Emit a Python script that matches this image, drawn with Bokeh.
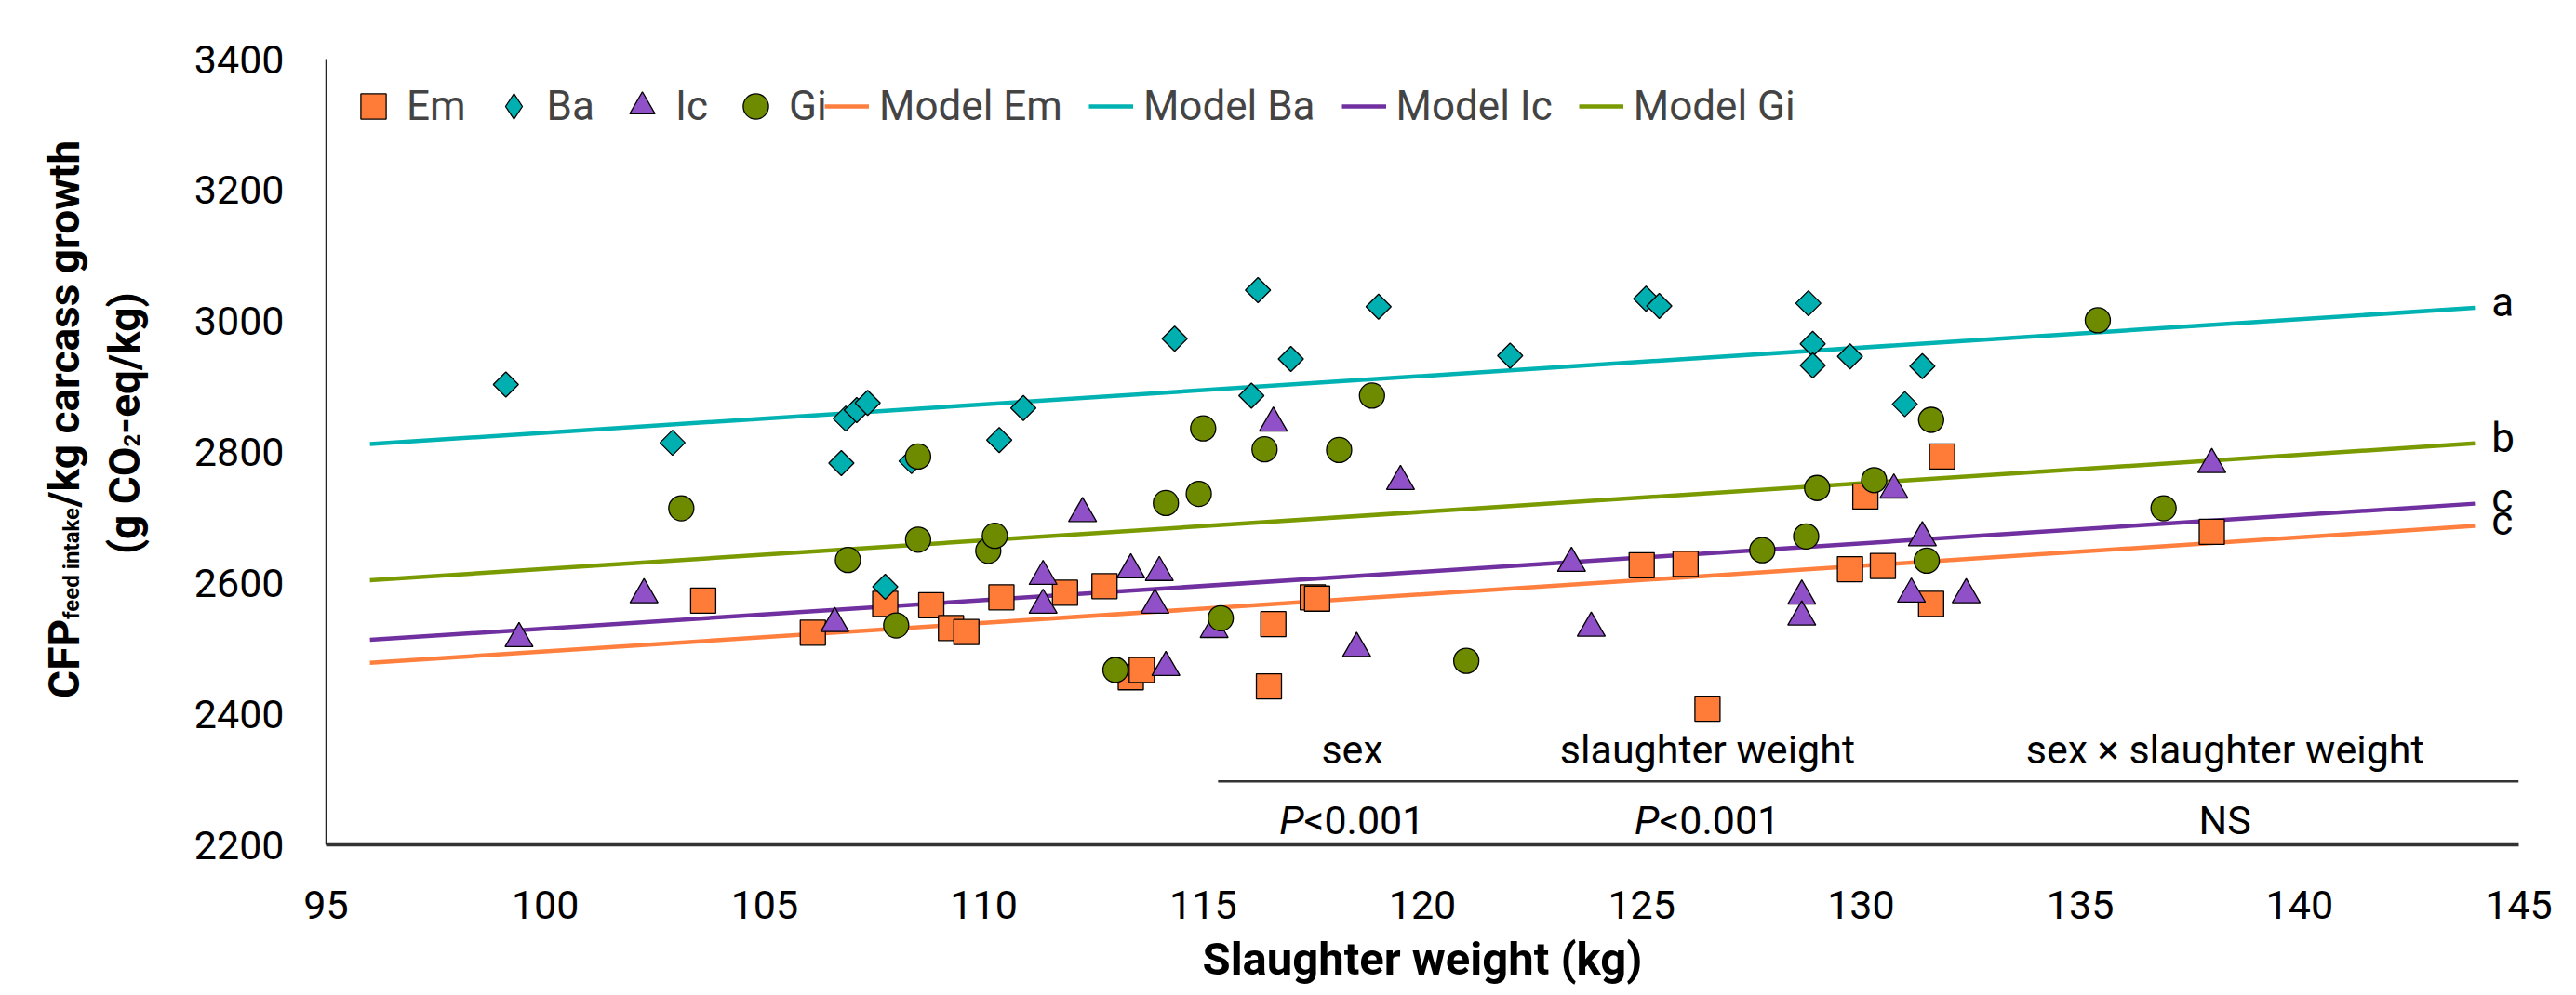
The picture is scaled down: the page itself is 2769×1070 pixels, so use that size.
import math
from bokeh.plotting import figure
from bokeh.layouts import row
from bokeh.models import Range1d, Legend, LegendItem, FixedTicker
from bokeh.core.properties import value
from bokeh.embed import file_html
from bokeh.resources import INLINE

# ---------------- data ----------------
em_x = [103.6, 106.1, 107.75, 108.8, 109.25, 109.6, 110.4, 111.85, 112.75, 113.35, 113.6, 116.5,
        116.6, 117.5, 117.6, 125.0, 126.0, 126.5, 129.75, 130.1, 130.5, 131.6, 131.85, 138.0]
em_y = [2573, 2524, 2568, 2566, 2531, 2525, 2578, 2585, 2595, 2456, 2467, 2442,
        2537, 2578, 2576, 2627, 2629, 2408, 2621, 2732, 2626, 2568, 2793, 2678]

ba_x = [99.1, 102.9, 106.75, 106.85, 107.1, 107.35, 107.75, 108.35, 110.35, 110.9, 114.35, 116.1,
        116.25, 117.0, 119.0, 122.0, 125.1, 125.4, 128.8, 128.9, 128.9, 129.75, 131.0, 131.4]
ba_y = [2903, 2814, 2783, 2851, 2864, 2875, 2594, 2786, 2818, 2867, 2973, 2886,
        3047, 2942, 3022, 2947, 3034, 3023, 3027, 2965, 2932, 2946, 2873, 2931]

ic_x = [99.4, 102.25, 106.6, 111.35, 111.35, 112.25, 113.35, 113.9, 114.0, 114.15, 115.25, 116.6,
        118.5, 119.5, 123.4, 123.85, 128.65, 128.65, 130.75, 131.15, 131.4, 132.4, 138.0]
ic_y = [2515, 2582, 2538, 2610, 2566, 2706, 2620, 2566, 2616, 2471, 2529, 2844,
        2500, 2755, 2630, 2531, 2580, 2548, 2742, 2583, 2669, 2582, 2781]

gi_x = [103.1, 106.9, 108.0, 108.5, 108.5, 110.1, 110.25, 113.0, 114.15, 114.9, 115.0, 115.4,
        116.4, 118.1, 118.85, 121.0, 127.75, 128.75, 129.0, 130.3, 131.5, 131.6, 135.4, 136.9]
gi_y = [2714, 2635, 2535, 2666, 2793, 2649, 2672, 2467, 2722, 2736, 2836, 2546,
        2804, 2803, 2886, 2481, 2650, 2671, 2745, 2757, 2634, 2849, 3001, 2714]

model_x = [96, 144]
model_em = [2478, 2687]
model_ba = [2812, 3020]
model_ic = [2513, 2721]
model_gi = [2604, 2813]

x_ticks = [95, 100, 105, 110, 115, 120, 125, 130, 135, 140, 145]
y_ticks = [2200, 2400, 2600, 2800, 3000, 3200, 3400]

line_letters = ["a", "b", "c", "c"]          # Ba, Gi, Ic, Em
line_letter_y = [model_ba[1], model_gi[1], model_ic[1], model_em[1]]

effects = ["sex", "slaughter weight", "sex \u00d7 slaughter weight"]
effect_x = [118.4, 126.5, 138.3]
p_prefix = ["P", "P", ""]
p_rest = ["<0.001", "<0.001", "NS"]

# ---------------- style ----------------
FONT = "Roboto"
C_EM, C_EM_L = "#FF7C38", "#FF7F3F"
C_BA, C_BA_L = "#00B0B0", "#00B2B2"
C_IC, C_IC_L = "#9050C8", "#7030A0"
C_GI, C_GI_L = "#6E8B00", "#7A9A01"

W, H = 2753, 1066
WL = 180                                  # width of the y-title strip
FL, FR, FT, FB = 350, 2707, 63, 908       # frame edges in page px
WM = W - WL

p = figure(width=WM, height=H, output_backend="svg", toolbar_location=None,
           x_range=Range1d(95, 145), y_range=Range1d(2200, 3400),
           min_border_left=FL - WL, min_border_right=W - FR, min_border_top=FT,
           min_border_bottom=H - FB)
p.outline_line_color = None
p.grid.visible = False
p.background_fill_color = "white"
p.border_fill_color = "white"

for ax in (p.xaxis, p.yaxis):
    ax.major_tick_out = 0
    ax.major_tick_in = 0
    ax.minor_tick_out = 0
    ax.minor_tick_in = 0
    ax.major_label_text_font = FONT
    ax.major_label_text_font_size = "43px"
    ax.major_label_text_color = "black"
p.xaxis.ticker = FixedTicker(ticks=x_ticks)
p.yaxis.ticker = FixedTicker(ticks=y_ticks)
p.xaxis.major_label_standoff = 49
p.yaxis.major_label_standoff = 45
p.xaxis.axis_line_color = "#333333"
p.xaxis.axis_line_width = 3.5
p.yaxis.axis_line_color = "#222222"
p.yaxis.axis_line_width = 1.5
p.xaxis.axis_label = "Slaughter weight (kg)"
p.xaxis.axis_label_text_font = FONT
p.xaxis.axis_label_text_font_style = "bold"
p.xaxis.axis_label_text_font_size = "49px"
p.xaxis.axis_label_text_color = "black"
p.xaxis.axis_label_standoff = 12

# model lines (under markers)
l_em = p.line(model_x, model_em, line_color=C_EM_L, line_width=4.5)
l_ba = p.line(model_x, model_ba, line_color=C_BA_L, line_width=4.5)
l_ic = p.line(model_x, model_ic, line_color=C_IC_L, line_width=4.5)
l_gi = p.line(model_x, model_gi, line_color=C_GI_L, line_width=4.5)

MS = 27
MK = dict(line_color="black", line_width=1.3)
s_em = p.scatter(em_x, em_y, marker="square", size=MS, fill_color=C_EM, **MK)
# Ba: a diamond glyph (hidden under the square diamonds) provides the legend swatch
s_ba_key = p.scatter(ba_x, ba_y, marker="diamond", size=24, fill_color=C_BA, **MK)
s_ba = p.scatter(ba_x, ba_y, marker="square", angle=math.pi / 4, size=MS / 1.414, fill_color=C_BA, **MK)
s_ic = p.scatter(ic_x, ic_y, marker="triangle", size=MS + 3, fill_color=C_IC, **MK)
s_gi = p.scatter(gi_x, gi_y, marker="circle", size=MS, fill_color=C_GI, **MK)

# letters at line ends
p.text(x=[144.38] * 4, y=line_letter_y, text=line_letters, text_align="left",
       text_baseline="alphabetic", y_offset=-6, text_font=value(FONT),
       text_font_size="44px", text_color="black")

# significance table
TS = "43px"
p.text(x=effect_x, y=[2346] * 3, text=effects, text_align="center", text_baseline="alphabetic",
       text_font=value(FONT), text_font_size=TS, text_color="black")
p.segment(x0=[115.34], y0=[2297], x1=[145], y1=[2297], line_color="#333333", line_width=2.5)
PX = -52
VY = 2237
p.text(x=effect_x[:2], y=[VY] * 2, text=p_prefix[:2], text_align="right", text_baseline="alphabetic",
       x_offset=PX, text_font=value(FONT), text_font_style="italic", text_font_size=TS,
       text_color="black")
p.text(x=effect_x[:2], y=[VY] * 2, text=p_rest[:2], text_align="left", text_baseline="alphabetic",
       x_offset=PX, text_font=value(FONT), text_font_size=TS, text_color="black")
p.text(x=effect_x[2:], y=[VY], text=p_rest[2:], text_align="center", text_baseline="alphabetic",
       text_font=value(FONT), text_font_size=TS, text_color="black")

# legends
LS = "44px"
leg1 = Legend(items=[LegendItem(label="Em", renderers=[s_em]), LegendItem(label="Ba", renderers=[s_ba_key]),
                     LegendItem(label="Ic", renderers=[s_ic]), LegendItem(label="Gi", renderers=[s_gi])],
              orientation="horizontal", location="top_left", margin=17, padding=0,
              glyph_width=68, glyph_height=68, label_standoff=2, spacing=17,
              label_text_font=FONT, label_text_font_size=LS, border_line_color=None,
              background_fill_alpha=0)
fh = FB - FT
leg2 = Legend(items=[LegendItem(label="Model Em", renderers=[l_em]), LegendItem(label="Model Ba", renderers=[l_ba]),
                     LegendItem(label="Model Ic", renderers=[l_ic]), LegendItem(label="Model Gi", renderers=[l_gi])],
              orientation="horizontal", location=(536, fh - 17 - 68), margin=0, padding=0,
              glyph_width=48, glyph_height=68, label_standoff=11, spacing=28,
              label_text_font=FONT, label_text_font_size=LS, border_line_color=None,
              background_fill_alpha=0)
p.add_layout(leg1, "center")
p.add_layout(leg2, "center")

# ---------------- y-axis title strip ----------------
t = figure(width=WL, height=H, output_backend="svg", toolbar_location=None,
           x_range=Range1d(0, WL), y_range=Range1d(0, H), x_axis_type=None, y_axis_type=None,
           min_border_left=0, min_border_right=0, min_border_top=0, min_border_bottom=0)
t.outline_line_color = None
t.grid.visible = False
t.background_fill_color = "white"
t.border_fill_color = "white"

TFS, SFS = "46px", "24px"


def vtext(txt, x, page_y, size, align):
    # rotated text reading bottom-to-top; page_y measured from the top of the page
    t.text(x=[x], y=[H - page_y], text=[txt], angle=math.pi / 2, text_align=align,
           text_baseline="alphabetic", text_font=value(FONT), text_font_style="bold",
           text_font_size=size, text_color="black")


# line 1: CFP_{feed intake}/kg carcass growth  (pieces meet at shared anchors)
B1, A1, SUBW1 = 68, 760, 152
vtext("CFP", B1, A1, TFS, "right")
vtext("feed intake", B1 + 8, A1, SFS, "left")
vtext("/kg carcass growth", B1, A1 - SUBW1, TFS, "left")
# line 2: (g CO2-eq/kg)
B2, A2, SUBW2 = 133, 526, 17
vtext("(g CO", B2, A2, TFS, "right")
vtext("2", B2 + 8, A2, SFS, "left")
vtext("-eq/kg)", B2, A2 - SUBW2, TFS, "left")

layout = row(t, p, spacing=0)
open("out.html", "w").write(file_html(layout, INLINE))
